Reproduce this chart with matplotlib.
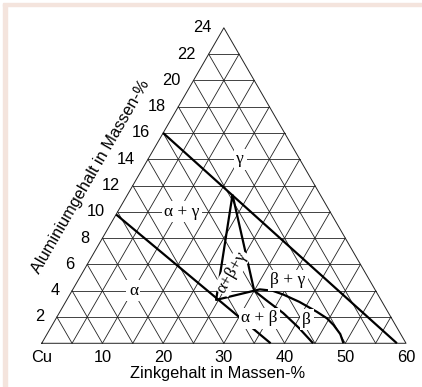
import numpy as np
import matplotlib.pyplot as plt
from matplotlib.patches import Rectangle

# Scales of the triangle: zinc along the base, aluminium up to the apex
zn_max = 60
al_max = 24
zn_ticks = [10, 20, 30, 40, 50, 60]
al_ticks = [2, 4, 6, 8, 10, 12, 14, 16, 18, 20, 22, 24]

# Phase boundaries as (Zn, Al) in mass-%
gamma_line_zn = [0, 58.5]
gamma_line_al = [16, 0]
alpha_line_zn = [0, 37.7]
alpha_line_al = [9.8, 0]
tri_zn = [17.3, 24.6, 30.0, 17.3]
tri_al = [11.3, 3.3, 4.0, 11.3]
beta_gamma_zn = [30.0, 30.8, 33.0, 35.2, 38.5, 42.3, 44.6, 46.3, 48.3, 49.7]
beta_gamma_al = [4.0, 4.1, 4.0, 3.7, 3.15, 2.4, 1.9, 1.4, 0.7, 0.0]
alpha_beta_zn = [30.0, 33.2, 36.9, 40.8, 44.7]
alpha_beta_al = [4.0, 3.2, 2.3, 1.2, 0.0]

# Phase field labels: text, Zn, Al, rotation
labels = [
    ("γ", 15.2, 14.0, 0),
    ("α + γ", 10.6, 10.0, 0),
    ("α", 10.1, 4.0, 0),
    ("β + γ", 34.5, 4.8, 0),
    ("α + β", 33.5, 1.9, 0),
    ("β", 41.4, 1.8, 0),
    ("α+β+γ", 24.6, 5.4, 60),
]


def to_xy(zn, al):
    zn = np.asarray(zn, dtype=float)
    al = np.asarray(al, dtype=float)
    x = zn / zn_max + 0.5 * al / al_max
    y = al / al_max * np.sqrt(3) / 2
    return x, y


fig = plt.figure(figsize=(4.22, 3.87), dpi=100)
ax = fig.add_axes([0, 0, 1, 1])
ax.set_xlim(-0.1145, 1.0439)
ax.set_ylim(-0.120, 0.9424)
ax.axis("off")

# light frame strips along the top and left
fig.patches.append(Rectangle((0.007, 0), 0.009, 0.99, transform=fig.transFigure,
                             color="#f4e4dd", zorder=0))
fig.patches.append(Rectangle((0.007, 0.984), 0.993, 0.009, transform=fig.transFigure,
                             color="#f4e4dd", zorder=0))

grid_kw = dict(color="#222222", lw=0.6, zorder=1)
n = 12
for i in range(1, n):
    al = al_max * i / n
    # horizontal lines of constant Al
    x, y = to_xy([0, zn_max * (1 - al / al_max)], [al, al])
    ax.plot(x, y, **grid_kw)
    zn = zn_max * i / n
    # lines of constant Zn (parallel to the left side)
    x, y = to_xy([zn, zn], [0, al_max * (1 - zn / zn_max)])
    ax.plot(x, y, **grid_kw)
    # lines of constant Cu (parallel to the right side)
    x, y = to_xy([zn, 0], [0, al_max * zn / zn_max])
    ax.plot(x, y, **grid_kw)

# outer triangle
x, y = to_xy([0, zn_max, 0, 0], [0, 0, al_max, 0])
ax.plot(x, y, color="#222222", lw=0.7, zorder=1)

bold_kw = dict(color="black", lw=1.6, zorder=3, solid_capstyle="butt")
for zs, als in [(gamma_line_zn, gamma_line_al), (alpha_line_zn, alpha_line_al),
                (tri_zn, tri_al), (beta_gamma_zn, beta_gamma_al),
                (alpha_beta_zn, alpha_beta_al)]:
    x, y = to_xy(zs, als)
    ax.plot(x, y, **bold_kw)

for text, zn, al, rot in labels:
    x, y = to_xy(zn, al)
    ax.text(x, y, text, ha="center", va="center", rotation=rot,
            family="Liberation Serif", fontsize=12.5, zorder=4,
            bbox=dict(facecolor="white", edgecolor="none", pad=0.8 if rot else 1.8))

sans = "Liberation Sans"
fs = 11.8
# Al tick labels along the left side
for al in al_ticks:
    x, y = to_xy(0, al)
    ax.text(x - 0.035, y, str(al), ha="right", va="center", family=sans, fontsize=fs)

# Zn tick labels under the base
x, y = to_xy(0, 0)
ax.text(x, y - 0.038, "Cu", ha="center", va="center", family=sans, fontsize=fs)
for zn in zn_ticks:
    x, y = to_xy(zn, 0)
    ax.text(x, y - 0.038, str(zn), ha="center", va="center", family=sans, fontsize=fs)

ax.text(0.482, -0.084, "Zinkgehalt in Massen-%", ha="center", va="center",
        family=sans, fontsize=fs)
ax.text(0.135, 0.458, "Aluminiumgehalt in Massen-%", ha="center", va="center",
        rotation=60, rotation_mode="anchor", family=sans, fontsize=fs)

fig.savefig("out.png", dpi=100)
